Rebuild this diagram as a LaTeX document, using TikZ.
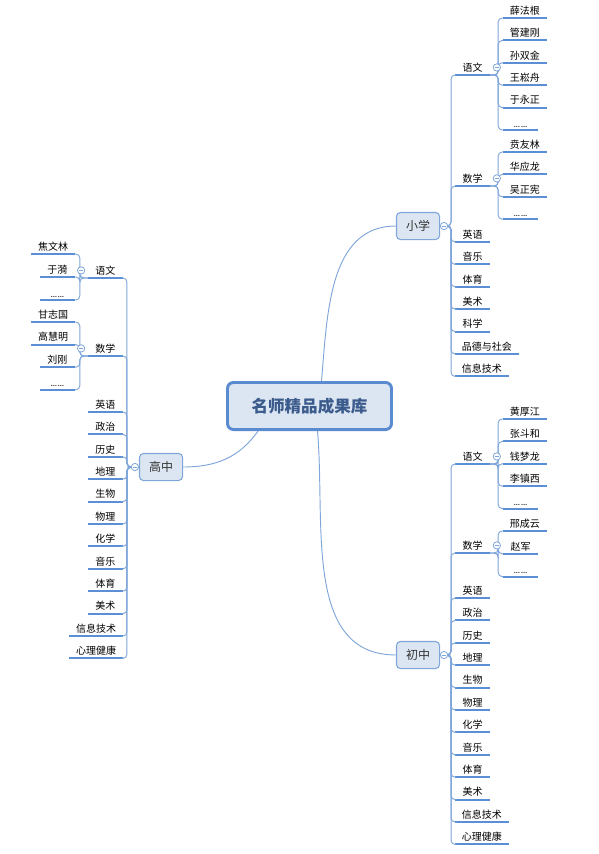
\documentclass[tikz,border=0pt]{standalone}
\usepackage{fontspec}
\newfontfamily\cjk{Noto Sans CJK SC}
\definecolor{mapline}{HTML}{7FA6DA}
\definecolor{mapbar}{HTML}{5B8FD5}
\definecolor{boxfill}{HTML}{DCE6F2}
\definecolor{rootedge}{HTML}{5A8AD0}
\definecolor{roottext}{HTML}{3B5B8C}
\newcommand\more{{\rmfamily ……}}
\tikzset{
  root/.style={draw=rootedge, line width=2.2pt, fill=boxfill, rounded corners=4.5pt,
    minimum width=123pt, minimum height=35.3pt, text=roottext,
    font=\cjk\bfseries\fontsize{12.4}{14}\selectfont},
  stage/.style={draw=mapline, line width=0.8pt, fill=boxfill, rounded corners=3pt,
    minimum width=32.3pt, minimum height=20.3pt, text=black!80,
    font=\cjk\fontsize{9}{11}\selectfont},
  leaf/.style={inner xsep=5pt, inner ysep=2pt, minimum width=26pt, font=\cjk\fontsize{7.5}{9}\selectfont,
    append after command={(\tikzlastnode.south west) edge[bar] (\tikzlastnode.south east)}},
  rleaf/.style={leaf, anchor=south west},
  lleaf/.style={leaf, anchor=south east},
  link/.style={draw=mapline, line width=0.7pt, rounded corners=3pt},
  bar/.style={draw=mapbar, line width=1.5pt},
  fold/.style={circle, draw=mapline, line width=0.6pt, fill=white, minimum size=5.5pt, inner sep=0pt,
    path picture={\draw[mapline, line width=0.5pt] ([xshift=-1.5pt]path picture bounding box.center)
      -- ([xshift=1.5pt]path picture bounding box.center);}},
}

\begin{document}
\begin{tikzpicture}[x=0.75pt, y=-0.75pt]
  \useasboundingbox (0,0) rectangle (599,854);

  % Root and stages
  \node[root] (root) at (309.5,406) {名师精品成果库};
  \node[stage] (xx) at (418,226) {小学};
  \node[stage] (gz) at (161,467) {高中};
  \node[stage] (cz) at (418,655) {初中};
  \draw[link] ([xshift=9pt]root.north) to[out=85,in=180] (xx.west);
  \draw[link] ([xshift=6pt]root.south) to[out=-85,in=180] (cz.west);
  \draw[link] ([xshift=24pt]root.south west) to[out=-125,in=0] (gz.east);

  % Primary school
  \node[rleaf] (x-yw) at (455,75) {语文};
  \node[rleaf] (x-sx) at (455,186) {数学};
  \foreach \c in {yw,sx}
    \draw[link] (xx.east) -- ++(11,0) |- (x-\c.south west);
  \foreach \txt [count=\i] in {英语,音乐,体育,美术,科学,品德与社会,信息技术} {
    \node[rleaf] (x-\i) at (455,{242+22.4*(\i-1)}) {\txt};
    \draw[link] (xx.east) -- ++(11,0) |- (x-\i.south west);
  }
  \foreach \txt [count=\i] in {薛法根,管建刚,孙双金,王崧舟,于永正,\more} {
    \node[rleaf] (x-yw\i) at (503,{18+22.4*(\i-1)}) {\txt};
    \draw[link] (x-yw.south east) -- ++(8,0) |- (x-yw\i.south west);
  }
  \foreach \txt [count=\i] in {贲友林,华应龙,吴正宪,\more} {
    \node[rleaf] (x-sx\i) at (503,{152+22.4*(\i-1)}) {\txt};
    \draw[link] (x-sx.south east) -- ++(8,0) |- (x-sx\i.south west);
  }
  \node[fold] (xx-f) at ([xshift=3pt]xx.east) {};
  \node[fold] (x-yw-f) at ([xshift=5pt]x-yw.east) {};
  \node[fold] (x-sx-f) at ([xshift=5pt]x-sx.east) {};

  % Senior high
  \node[lleaf] (g-yw) at (123,278) {语文};
  \node[lleaf] (g-sx) at (123,356) {数学};
  \foreach \c in {yw,sx}
    \draw[link] (gz.west) -- ++(-12,0) |- (g-\c.south east);
  \foreach \txt [count=\i] in {英语,政治,历史,地理,生物,物理,化学,音乐,体育,美术,信息技术,心理健康} {
    \node[lleaf] (g-\i) at (123,{412+22.4*(\i-1)}) {\txt};
    \draw[link] (gz.west) -- ++(-12,0) |- (g-\i.south east);
  }
  \foreach \txt [count=\i] in {焦文林,于漪,\more} {
    \node[lleaf] (g-yw\i) at (75,{254+23*(\i-1)}) {\txt};
    \draw[link] (g-yw.south west) -- ++(-8,0) |- (g-yw\i.south east);
  }
  \foreach \txt [count=\i] in {甘志国,高慧明,刘刚,\more} {
    \node[lleaf] (g-sx\i) at (75,{322+22.6*(\i-1)}) {\txt};
    \draw[link] (g-sx.south west) -- ++(-8,0) |- (g-sx\i.south east);
  }
  \node[fold] (gz-f) at ([xshift=-3pt]gz.west) {};
  \node[fold] (g-yw-f) at ([xshift=-5pt]g-yw.west) {};
  \node[fold] (g-sx-f) at ([xshift=-5pt]g-sx.west) {};

  % Junior high
  \node[rleaf] (c-yw) at (455,464) {语文};
  \node[rleaf] (c-sx) at (455,553) {数学};
  \foreach \c in {yw,sx}
    \draw[link] (cz.east) -- ++(11,0) |- (c-\c.south west);
  \foreach \txt [count=\i] in {英语,政治,历史,地理,生物,物理,化学,音乐,体育,美术,信息技术,心理健康} {
    \node[rleaf] (c-\i) at (455,{598+22.4*(\i-1)}) {\txt};
    \draw[link] (cz.east) -- ++(11,0) |- (c-\i.south west);
  }
  \foreach \txt [count=\i] in {黄厚江,张斗和,钱梦龙,李镇西,\more} {
    \node[rleaf] (c-yw\i) at (503,{419+22.4*(\i-1)}) {\txt};
    \draw[link] (c-yw.south east) -- ++(8,0) |- (c-yw\i.south west);
  }
  \foreach \txt [count=\i] in {邢成云,赵军,\more} {
    \node[rleaf] (c-sx\i) at (503,{531+22.8*(\i-1)}) {\txt};
    \draw[link] (c-sx.south east) -- ++(8,0) |- (c-sx\i.south west);
  }
  \node[fold] (cz-f) at ([xshift=3pt]cz.east) {};
  \node[fold] (c-yw-f) at ([xshift=5pt]c-yw.east) {};
  \node[fold] (c-sx-f) at ([xshift=5pt]c-sx.east) {};
\end{tikzpicture}
\end{document}
